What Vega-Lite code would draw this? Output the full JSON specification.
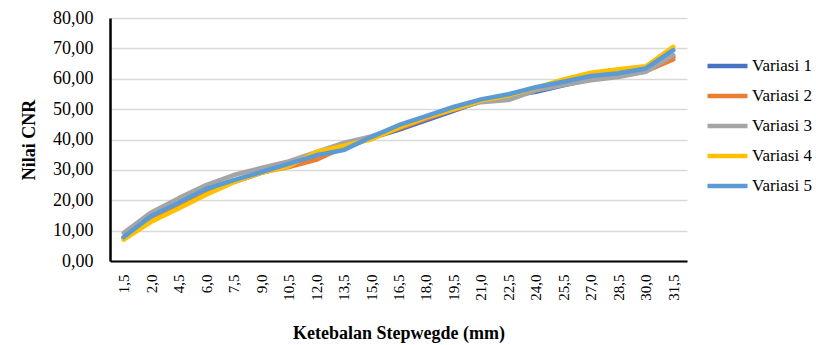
{
  "$schema": "https://vega.github.io/schema/vega-lite/v6.json",
  "autosize": {"type": "none"},
  "padding": {"left": 110, "top": 18, "right": 129, "bottom": 84},
  "width": 577,
  "height": 243,
  "background": "white",
  "datasets": {
    "cnr": [
      {"x":"1,5","s":"Variasi 1","v":7.5},{"x":"2,0","s":"Variasi 1","v":13.8},{"x":"4,5","s":"Variasi 1","v":18.3},{"x":"6,0","s":"Variasi 1","v":22.5},{"x":"7,5","s":"Variasi 1","v":26.0},{"x":"9,0","s":"Variasi 1","v":29.0},{"x":"10,5","s":"Variasi 1","v":31.5},{"x":"12,0","s":"Variasi 1","v":34.0},{"x":"13,5","s":"Variasi 1","v":37.0},{"x":"15,0","s":"Variasi 1","v":40.5},{"x":"16,5","s":"Variasi 1","v":43.2},{"x":"18,0","s":"Variasi 1","v":46.3},{"x":"19,5","s":"Variasi 1","v":49.4},{"x":"21,0","s":"Variasi 1","v":52.6},{"x":"22,5","s":"Variasi 1","v":54.2},{"x":"24,0","s":"Variasi 1","v":55.7},{"x":"25,5","s":"Variasi 1","v":57.8},{"x":"27,0","s":"Variasi 1","v":59.8},{"x":"28,5","s":"Variasi 1","v":61.2},{"x":"30,0","s":"Variasi 1","v":62.8},{"x":"31,5","s":"Variasi 1","v":67.2},
      {"x":"1,5","s":"Variasi 2","v":7.6},{"x":"2,0","s":"Variasi 2","v":13.6},{"x":"4,5","s":"Variasi 2","v":18.0},{"x":"6,0","s":"Variasi 2","v":22.3},{"x":"7,5","s":"Variasi 2","v":26.2},{"x":"9,0","s":"Variasi 2","v":29.1},{"x":"10,5","s":"Variasi 2","v":30.9},{"x":"12,0","s":"Variasi 2","v":33.3},{"x":"13,5","s":"Variasi 2","v":37.5},{"x":"15,0","s":"Variasi 2","v":40.4},{"x":"16,5","s":"Variasi 2","v":43.6},{"x":"18,0","s":"Variasi 2","v":46.8},{"x":"19,5","s":"Variasi 2","v":49.8},{"x":"21,0","s":"Variasi 2","v":52.5},{"x":"22,5","s":"Variasi 2","v":53.8},{"x":"24,0","s":"Variasi 2","v":56.5},{"x":"25,5","s":"Variasi 2","v":58.2},{"x":"27,0","s":"Variasi 2","v":60.0},{"x":"28,5","s":"Variasi 2","v":61.0},{"x":"30,0","s":"Variasi 2","v":62.5},{"x":"31,5","s":"Variasi 2","v":66.4},
      {"x":"1,5","s":"Variasi 3","v":9.3},{"x":"2,0","s":"Variasi 3","v":16.0},{"x":"4,5","s":"Variasi 3","v":20.7},{"x":"6,0","s":"Variasi 3","v":25.0},{"x":"7,5","s":"Variasi 3","v":28.3},{"x":"9,0","s":"Variasi 3","v":30.6},{"x":"10,5","s":"Variasi 3","v":32.8},{"x":"12,0","s":"Variasi 3","v":35.8},{"x":"13,5","s":"Variasi 3","v":38.9},{"x":"15,0","s":"Variasi 3","v":41.0},{"x":"16,5","s":"Variasi 3","v":44.0},{"x":"18,0","s":"Variasi 3","v":47.2},{"x":"19,5","s":"Variasi 3","v":50.0},{"x":"21,0","s":"Variasi 3","v":52.3},{"x":"22,5","s":"Variasi 3","v":53.0},{"x":"24,0","s":"Variasi 3","v":56.2},{"x":"25,5","s":"Variasi 3","v":57.9},{"x":"27,0","s":"Variasi 3","v":59.5},{"x":"28,5","s":"Variasi 3","v":60.6},{"x":"30,0","s":"Variasi 3","v":62.3},{"x":"31,5","s":"Variasi 3","v":67.8},
      {"x":"1,5","s":"Variasi 4","v":7.0},{"x":"2,0","s":"Variasi 4","v":12.9},{"x":"4,5","s":"Variasi 4","v":17.3},{"x":"6,0","s":"Variasi 4","v":21.8},{"x":"7,5","s":"Variasi 4","v":25.9},{"x":"9,0","s":"Variasi 4","v":29.0},{"x":"10,5","s":"Variasi 4","v":31.2},{"x":"12,0","s":"Variasi 4","v":35.9},{"x":"13,5","s":"Variasi 4","v":38.0},{"x":"15,0","s":"Variasi 4","v":40.0},{"x":"16,5","s":"Variasi 4","v":43.9},{"x":"18,0","s":"Variasi 4","v":47.3},{"x":"19,5","s":"Variasi 4","v":49.9},{"x":"21,0","s":"Variasi 4","v":52.8},{"x":"22,5","s":"Variasi 4","v":54.5},{"x":"24,0","s":"Variasi 4","v":57.0},{"x":"25,5","s":"Variasi 4","v":59.8},{"x":"27,0","s":"Variasi 4","v":62.0},{"x":"28,5","s":"Variasi 4","v":63.1},{"x":"30,0","s":"Variasi 4","v":64.1},{"x":"31,5","s":"Variasi 4","v":70.5},
      {"x":"1,5","s":"Variasi 5","v":7.9},{"x":"2,0","s":"Variasi 5","v":14.8},{"x":"4,5","s":"Variasi 5","v":19.2},{"x":"6,0","s":"Variasi 5","v":23.7},{"x":"7,5","s":"Variasi 5","v":26.6},{"x":"9,0","s":"Variasi 5","v":29.3},{"x":"10,5","s":"Variasi 5","v":32.0},{"x":"12,0","s":"Variasi 5","v":34.8},{"x":"13,5","s":"Variasi 5","v":36.5},{"x":"15,0","s":"Variasi 5","v":40.8},{"x":"16,5","s":"Variasi 5","v":44.7},{"x":"18,0","s":"Variasi 5","v":47.7},{"x":"19,5","s":"Variasi 5","v":50.7},{"x":"21,0","s":"Variasi 5","v":53.2},{"x":"22,5","s":"Variasi 5","v":54.9},{"x":"24,0","s":"Variasi 5","v":57.2},{"x":"25,5","s":"Variasi 5","v":59.0},{"x":"27,0","s":"Variasi 5","v":60.9},{"x":"28,5","s":"Variasi 5","v":61.8},{"x":"30,0","s":"Variasi 5","v":63.4},{"x":"31,5","s":"Variasi 5","v":69.4}
    ]
  },
  "data": {"name": "cnr"},
  "mark": {"type": "line", "strokeWidth": 4.5, "strokeCap": "round", "strokeJoin": "round"},
  "encoding": {
    "x": {
      "field": "x", "type": "ordinal", "sort": null,
      "scale": {"type": "point", "padding": 0.5},
      "axis": {
        "title": "Ketebalan Stepwegde (mm)",
        "titleFont": "'Liberation Serif', 'DejaVu Serif', serif", "titleFontSize": 18, "titleFontWeight": "bold", "titleColor": "#000",
        "titlePadding": 24,
        "labelAngle": -90, "labelFont": "'Liberation Serif', 'DejaVu Serif', serif", "labelFontSize": 15, "labelColor": "#000",
        "labelPadding": 13,
        "ticks": false, "grid": false, "domain": true,
        "domainColor": "#000", "domainWidth": 2
      }
    },
    "y": {
      "field": "v", "type": "quantitative",
      "scale": {"domain": [0, 80], "nice": false},
      "axis": {
        "title": "Nilai CNR",
        "titleFont": "'Liberation Serif', 'DejaVu Serif', serif", "titleFontSize": 18, "titleFontWeight": "bold", "titleColor": "#000",
        "titlePadding": 14,
        "values": [0, 10, 20, 30, 40, 50, 60, 70, 80],
        "labelExpr": "replace(format(datum.value, '.2f'), '.', ',')",
        "labelFont": "'Liberation Serif', 'DejaVu Serif', serif", "labelFontSize": 18, "labelColor": "#000",
        "labelPadding": 17,
        "ticks": false,
        "grid": true, "gridColor": "#D9D9D9", "gridWidth": 1.5
      }
    },
    "color": {
      "field": "s", "type": "nominal",
      "scale": {
        "domain": ["Variasi 1", "Variasi 2", "Variasi 3", "Variasi 4", "Variasi 5"],
        "range": ["#4472C4", "#ED7D31", "#A5A5A5", "#FFC000", "#5B9BD5"]
      },
      "legend": {
        "title": null,
        "orient": "none", "legendX": 595, "legendY": 40,
        "symbolType": "stroke", "symbolSize": 1600, "symbolStrokeWidth": 4.5,
        "clipHeight": 16, "rowPadding": 13,
        "labelFont": "'Liberation Serif', 'DejaVu Serif', serif", "labelFontSize": 17, "labelColor": "#000",
        "labelOffset": 2, "padding": 0
      }
    }
  },
  "config": {
    "view": {"stroke": null},
    "axisY": {"domain": true, "domainColor": "#000000", "domainWidth": 2.5}
  }
}
